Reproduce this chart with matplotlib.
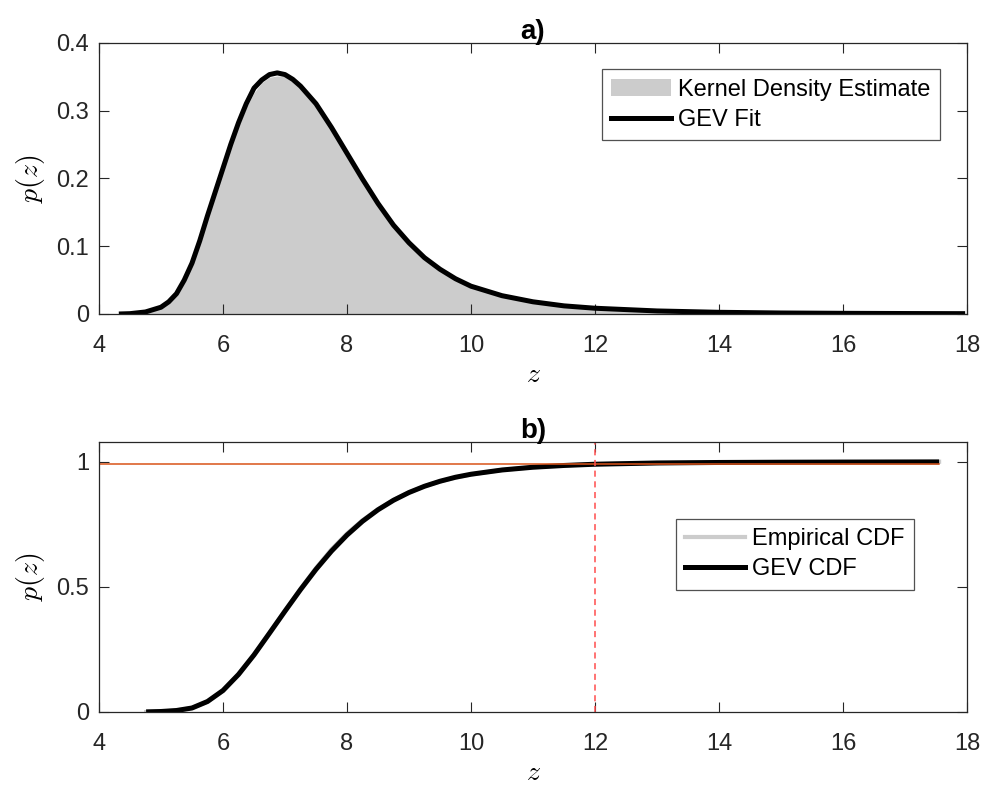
import matplotlib
matplotlib.use("Agg")
import matplotlib.pyplot as plt
from matplotlib.patches import Patch
from matplotlib.lines import Line2D

plt.rcParams['font.family'] = ['Liberation Sans', 'DejaVu Sans']
plt.rcParams['mathtext.fontset'] = 'cm'

# ---- data ----
z_kde = [4.32, 4.5, 4.75, 5.0, 5.125, 5.25, 5.375, 5.5, 5.625, 5.75, 5.875, 6.0, 6.125, 6.25,
         6.375, 6.5, 6.625, 6.75, 6.875, 7.0, 7.125, 7.25, 7.5, 7.75, 8.0, 8.25, 8.5, 8.75,
         9.0, 9.25, 9.5, 9.75, 10.0, 10.5, 11.0, 11.5, 12.0, 13.0, 14.0, 15.0, 16.0, 17.0, 17.97]
kde_pdf = [0.0, 0.0005, 0.003, 0.010, 0.017, 0.029, 0.048, 0.073, 0.105, 0.142, 0.177, 0.212,
           0.246, 0.277, 0.304, 0.326, 0.341, 0.349, 0.351, 0.350, 0.344, 0.335, 0.309, 0.275,
           0.236, 0.197, 0.160, 0.127, 0.101, 0.080, 0.063, 0.050, 0.040, 0.027, 0.018, 0.012,
           0.0082, 0.0042, 0.0022, 0.0012, 0.0007, 0.0004, 0.0002]

z_gev = [4.32, 4.5, 4.75, 5.0, 5.125, 5.25, 5.375, 5.5, 5.625, 5.75, 5.875, 6.0, 6.125, 6.25,
         6.375, 6.5, 6.625, 6.75, 6.875, 7.0, 7.125, 7.25, 7.5, 7.75, 8.0, 8.25, 8.5, 8.75,
         9.0, 9.25, 9.5, 9.75, 10.0, 10.5, 11.0, 11.5, 12.0, 13.0, 14.0, 15.0, 16.0, 17.0, 17.97]
gev_pdf = [0.0, 0.0005, 0.003, 0.010, 0.018, 0.030, 0.050, 0.075, 0.108, 0.145, 0.180, 0.215,
           0.250, 0.282, 0.310, 0.333, 0.345, 0.353, 0.3555, 0.353, 0.346, 0.336, 0.310, 0.275,
           0.237, 0.199, 0.163, 0.131, 0.105, 0.083, 0.066, 0.052, 0.041, 0.027, 0.018, 0.012,
           0.0085, 0.0045, 0.0025, 0.0015, 0.0010, 0.0007, 0.0005]

z_cdf = [4.76, 5.0, 5.25, 5.5, 5.75, 6.0, 6.25, 6.5, 6.75, 7.0, 7.25, 7.5, 7.75, 8.0, 8.25,
         8.5, 8.75, 9.0, 9.25, 9.5, 9.75, 10.0, 10.5, 11.0, 11.5, 12.0, 13.0, 14.0, 15.0,
         16.0, 17.0, 17.55]
ecdf = [0.0, 0.002, 0.006, 0.016, 0.041, 0.084, 0.149, 0.228, 0.316, 0.405, 0.492, 0.575,
        0.650, 0.713, 0.766, 0.810, 0.847, 0.877, 0.902, 0.921, 0.937, 0.949, 0.967, 0.978,
        0.985, 0.990, 0.995, 0.997, 0.998, 0.9986, 0.999, 1.0]
gev_cdf = [0.0005, 0.002, 0.006, 0.016, 0.042, 0.086, 0.150, 0.228, 0.315, 0.403, 0.489,
           0.570, 0.643, 0.707, 0.762, 0.808, 0.846, 0.877, 0.902, 0.922, 0.938, 0.950,
           0.967, 0.978, 0.985, 0.990, 0.995, 0.997, 0.998, 0.9986, 0.999, 0.9992]

threshold_p = 0.99
return_level = 12.0

xticks = [4, 6, 8, 10, 12, 14, 16, 18]
yticks_a = [0, 0.1, 0.2, 0.3, 0.4]
yticklabels_a = ['0', '0.1', '0.2', '0.3', '0.4']
yticks_b = [0, 0.5, 1]
yticklabels_b = ['0', '0.5', '1']

# ---- figure ----
W, H = 989, 787
fig = plt.figure(figsize=(W / 100, H / 100), dpi=100)
ax1 = fig.add_axes([99 / W, 1 - 314 / H, 868 / W, (314 - 42.7) / H])
ax2 = fig.add_axes([99 / W, 1 - 712 / H, 868 / W, (712 - 441.7) / H])

axcol = '#262626'
gray = '#cccccc'
FS = 17

def style(ax):
    ax.tick_params(direction='in', length=7.2, width=0.8, colors=axcol, labelsize=FS,
                   top=True, right=True)
    ax.tick_params(axis='x', pad=15)
    ax.tick_params(axis='y', pad=7)
    for s in ax.spines.values():
        s.set_color(axcol)
        s.set_linewidth(0.9)
    ax.set_xlim(4, 18)
    ax.set_xticks(xticks)
    ax.set_xticklabels([str(t) for t in xticks])
    ax.set_xlabel(r'$z$', fontsize=20, labelpad=4)
    ax.set_ylabel(r'$p(z)$', fontsize=20, labelpad=7)

def style_legend(leg):
    leg.get_frame().set_edgecolor(axcol)
    leg.get_frame().set_linewidth(0.9)

leg_kw = dict(loc='upper left', fontsize=FS, frameon=True, fancybox=False, borderaxespad=0,
              handlelength=2.55, handletextpad=0.3, borderpad=0.4, labelspacing=0.34)

# ---- a) ----
ax1.fill_between(z_kde, kde_pdf, 0, color=gray, linewidth=0)
ax1.plot(z_gev, gev_pdf, color='black', linewidth=3.6, solid_capstyle='butt',
         solid_joinstyle='round')
style(ax1)
ax1.set_ylim(0, 0.4)
ax1.set_yticks(yticks_a)
ax1.set_yticklabels(yticklabels_a)
ax1.set_title('a)', fontsize=20, fontweight='bold', pad=3)
h1 = [Patch(facecolor=gray, edgecolor='none'),
      Line2D([], [], color='black', linewidth=3.6)]
leg1 = ax1.legend(h1, ['Kernel Density Estimate', 'GEV Fit'],
                  bbox_to_anchor=((601.7 - 99) / 868, (314 - 69.3) / (314 - 42.7)), **leg_kw)
style_legend(leg1)

# ---- b) ----
ax2.plot(z_cdf, ecdf, color=gray, linewidth=3.0, solid_joinstyle='round')
ax2.plot(z_cdf, gev_cdf, color='black', linewidth=3.6, solid_capstyle='butt',
         solid_joinstyle='round')
ax2.plot([4, z_cdf[-1]], [threshold_p, threshold_p], color='#D95319', linewidth=1.1)
ax2.axvline(return_level, color='#ff4d4d', linewidth=1.1, linestyle=(0, (4, 3)))
style(ax2)
ax2.set_ylim(0, 1.08)
ax2.set_yticks(yticks_b)
ax2.set_yticklabels(yticklabels_b)
ax2.set_title('b)', fontsize=20, fontweight='bold', pad=3)
h2 = [Line2D([], [], color=gray, linewidth=3.0),
      Line2D([], [], color='black', linewidth=3.6)]
leg2 = ax2.legend(h2, ['Empirical CDF', 'GEV CDF'],
                  bbox_to_anchor=((675.7 - 99) / 868, (712 - 519) / (712 - 441.7)), **leg_kw)
style_legend(leg2)

fig.savefig('out.png', dpi=100)
